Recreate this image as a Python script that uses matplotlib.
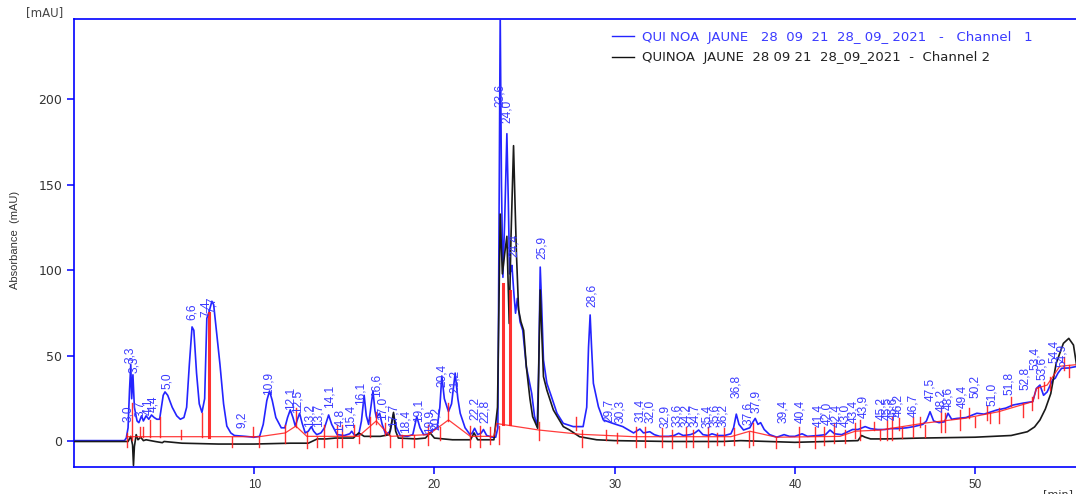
import matplotlib
matplotlib.use("Agg")
import matplotlib.pyplot as plt
import numpy as np

# ---------------- data ----------------
# Channel 1 (blue) trace: retention time [min], absorbance [mAU]
ch1_t = [0.0, 2.8, 2.9, 3.0, 3.08, 3.15, 3.2, 3.27, 3.35, 3.5, 3.6, 3.75, 3.85, 4.0, 4.15, 4.3, 4.45,
         4.6, 4.75, 4.85, 4.95, 5.05, 5.2, 5.45, 5.7, 5.9, 6.1, 6.25, 6.4, 6.55, 6.65, 6.8, 6.95, 7.1,
         7.25, 7.37, 7.5, 7.65, 7.75, 7.9, 8.1, 8.3, 8.48, 8.7, 8.9, 9.5, 10.0, 10.3, 10.5, 10.7, 10.85,
         11.0, 11.2, 11.5, 11.7, 11.85, 12.0, 12.15, 12.28, 12.4, 12.52, 12.65, 12.83, 13.0, 13.17, 13.3,
         13.47, 13.7, 13.9, 14.13, 14.3, 14.6, 15.0, 15.3, 15.41, 15.55, 15.8, 15.95, 16.1, 16.22, 16.35,
         16.47, 16.59, 16.7, 16.78, 16.96, 17.1, 17.3, 17.55, 17.73, 17.9, 18.1, 18.5, 18.8, 19.02, 19.2,
         19.4, 19.7, 19.9, 20.15, 20.3, 20.41, 20.55, 20.78, 20.95, 21.15, 21.3, 21.43, 21.7, 21.98, 22.1,
         22.23, 22.4, 22.6, 22.72, 22.9, 23.2, 23.4, 23.52, 23.58, 23.65, 23.72, 23.8, 23.9, 24.02, 24.1,
         24.17, 24.25, 24.3, 24.42, 24.5, 24.6, 24.75, 24.9, 25.1, 25.25, 25.4, 25.55, 25.7, 25.78, 25.87,
         25.95, 26.05, 26.24, 26.5, 26.8, 27.15, 27.7, 28.25, 28.45, 28.55, 28.64, 28.72, 28.82, 29.1,
         29.37, 29.9, 30.45, 31.05, 31.2, 31.4, 31.6, 31.95, 32.2, 32.5, 33.0, 33.3, 33.55, 33.8, 34.2,
         34.45, 34.66, 34.9, 35.2, 35.4, 35.7, 36.1, 36.45, 36.6, 36.75, 36.9, 37.15, 37.5, 37.65, 37.8,
         37.95, 38.1, 38.3, 38.6, 39.0, 39.4, 39.7, 40.0, 40.4, 40.7, 41.3, 41.7, 41.95, 42.2, 42.6, 43.0,
         43.2, 43.5, 43.9, 44.2, 44.6, 45.0, 45.3, 45.7, 46.2, 46.6, 47.1, 47.3, 47.5, 47.7, 48.0, 48.3,
         48.5, 48.7, 49.0, 49.5, 50.1, 50.5, 51.2, 51.7, 52.1, 52.7, 53.2, 53.4, 53.6, 53.8, 54.0, 54.3,
         54.45, 54.6, 54.8, 55.2, 55.7]
ch1_v = [0.5, 0.5, 2, 8, 30, 45, 25, 39, 20, 12, 11, 15, 12, 15, 13, 15.5, 14,
         13, 13, 20, 27, 29, 27, 20, 15, 13, 14, 20, 45, 67, 65, 40, 22, 17,
         25, 72, 76, 82, 80, 65, 45, 22, 9, 5, 3.5, 3, 2.5, 3, 10, 24, 29.5,
         24, 14, 8, 8, 14, 18.5, 14, 9, 13, 16.5, 11, 5, 6, 8.7, 6,
         4, 5, 8, 15.5, 10, 4, 3.5, 4.5, 6, 3.8, 4, 12, 27, 15, 10,
         20, 29.5, 18, 14, 16.5, 10, 4, 6, 16, 8, 3.5, 3, 4, 14.5, 8,
         4, 4.5, 6.5, 8, 20, 38.3, 25, 17.5, 22, 40, 25, 16.5, 8, 4, 5,
         7.7, 4, 5, 7, 3.5, 2.5, 2.5, 8, 120, 250, 150, 96, 130, 180, 140,
         98, 100, 103, 85, 75, 83.7, 70, 65, 43.7, 36, 28, 15, 8.7, 40, 102,
         80, 47.7, 34, 26, 16.5, 10.6, 8.7, 8.7, 20, 55, 74, 55, 34, 20.3,
         12.6, 10.6, 8.7, 5, 6, 7.3, 5, 5.7, 4, 3, 3, 3.5, 4.8, 3.5, 4,
         5, 6.7, 4, 3.5, 4.5, 3.5, 3.5, 4.5, 8, 16, 10, 6.7, 8, 11, 13.5,
         10, 11, 7, 4, 2.5, 4, 3, 3, 4.5, 3, 3.5, 4, 6.7, 4.5, 4, 6,
         7, 7, 8.7, 7.5, 7, 7, 7.5, 7.5, 8, 8.7, 10, 12, 17.4, 12, 11, 11.5,
         16.5, 13, 13.5, 14, 16.5, 16, 18.4, 19.5, 21.3, 22.5, 23.3, 31, 33, 27, 29, 36,
         37, 40, 42.8, 43, 44]

# Channel 2 (black) trace
ch2_t = [0.0, 3.0, 3.15, 3.25, 3.3, 3.35, 3.45, 3.55, 3.7, 3.85, 4.0, 4.5, 4.9, 5.0, 6.0, 8.0, 10.0,
         12.0, 13.0, 13.5, 14.0, 14.5, 15.5, 15.8, 16.1, 16.5, 17.0, 17.5, 17.73, 17.85, 18.0, 19.0,
         19.5, 19.76, 20.0, 21.0, 22.0, 22.2, 22.4, 23.3, 23.5, 23.65, 23.77, 23.9, 24.02, 24.15, 24.25,
         24.39, 24.47, 24.55, 24.67, 24.8, 24.95, 25.1, 25.3, 25.45, 25.73, 25.8, 25.87, 25.95, 26.05,
         26.24, 26.6, 27.15, 27.5, 28.05, 29.0, 30.0, 33.0, 36.0, 37.0, 40.0, 43.5, 43.7, 43.9, 44.2,
         45.0, 47.0, 50.0, 52.0, 52.9, 53.3, 53.6, 53.9, 54.2, 54.5, 54.9, 55.2, 55.46, 55.7]
ch2_v = [0.0, 0.0, 3, -2, -14, -3, 4, 1, 2.5, 0.5, 1, 0, -0.7, 0, -1, -1.5, -1.5,
         -1, -1, 1.5, 1.5, 2, 2, 5, 3, 3, 3, 4, 17, 6, 2, 1.5,
         2, 5, 2, 1, 1, 5, 1, 1, 20, 133, 98, 110, 120, 69, 120,
         173, 140, 110, 77, 70, 65, 43.7, 25, 14.5, 7.7, 50, 88.6, 65, 37.9,
         30, 18.4, 8.7, 6.7, 2.8, 1, 0.5, 0, 0, 0.5, -0.5, 0.5, 3.5, 2.5, 1.5,
         1.5, 2, 2.5, 3.5, 5.7, 8.5, 12.6, 19, 28, 45.7, 57.4, 60.3, 56.4, 40]

# Integration baseline (red)
base_t = [2.92, 10.28, 11.72, 12.31, 12.92, 15.79, 16.77, 17.55, 19.67, 20.78, 21.99, 23.3,
          23.45, 25.8, 28.1, 31.1, 36.45, 37.5, 38.97, 42.5, 43.35, 44.75, 47.1, 49.4, 51.3,
          53.2, 53.4, 54.0, 54.7, 55.7]
base_v = [2.8, 2.8, 5, 9, 3, 3, 12, 3, 4, 12.6, 3, 3,
          10.5, 6.7, 4.2, 2.8, 2.8, 6, 2.5, 3, 6, 6.7, 10.6, 13.5, 17.4,
          23.3, 31, 33, 44, 45]

# Peak start/end markers (red): time, low, high
mark_t = [2.93, 3.21, 3.67, 3.82, 4.19, 4.78, 5.95, 7.1, 7.5, 8.76, 9.93, 10.28, 11.72, 12.31,
          12.92, 13.51, 13.88, 14.62, 14.87, 15.55, 15.79, 16.4, 16.77, 17.27, 17.55, 18.2, 18.84,
          19.67, 20.32, 20.78, 21.99, 22.54, 23.1, 23.6, 23.83, 24.2, 25.8, 27.87, 28.18, 29.53,
          30.13, 31.2, 31.66, 32.62, 33.18, 33.97, 34.34, 35.16, 35.68, 36.08, 36.6, 37.47, 37.67,
          38.97, 40.21, 41.13, 41.63, 42.15, 42.8, 43.35, 43.63, 44.41, 44.74, 45.11, 45.39, 45.76,
          45.94, 46.53, 46.96, 47.24, 48.13, 48.35, 49.18, 49.64, 50.01, 50.66, 50.84, 51.3, 51.99,
          52.66, 53.16, 53.47, 53.8, 54.17, 54.91, 55.19]
mark_lo = [-3, 1, 2.8, 2.8, 2.8, 2.8, 1.5, 2.8, 2.8, -3, 2.8, -3, -1, 8.5,
           -4, -3, -3, -3, -3, 3.8, -1, 2.8, 10, 3.8, -3, -3, -3,
           -2, 0.9, 12, -3, -3, -1.2, -1.2, 10.5, 10.5, 0.9, 6.7, -3, 0.9,
           -1, -3, -3, -3, -4, -3, -3, -3, -2, -2, -2, -3, -2,
           -4, -3, -4, -2, -1, -1, 2, 0.9, 6.7, 0.9, 0.9, 0.9, 6.8,
           1.8, 2.8, 8.7, 2.8, 5.8, 5.8, 6.8, 13.7, 8.7, 12.7, 10.6, 10.6, 20.5,
           14.6, 18.5, 25.3, 30.1, 30.1, 41.8, 38]
mark_hi = [4.8, 22.3, 8.7, 8.7, 12.6, 14.6, 6.8, 16.5, 75, 2.8, 8.7, 2.8, 9.7, 19.4,
           5.8, 2.8, 9.7, 9.7, 9.7, 9.7, 3.8, 14.6, 17.5, 10.6, 3.8, 3.8, 3.8,
           9.7, 8.7, 22.3, 9, 9, 8.7, 9, 92, 88, 11.6, 14.5, 6.7, 6.7,
           4.8, 8.7, 8.7, 7.7, 6.7, 8.7, 6.7, 8.7, 4.8, 7.7, 7.7, 5.7, 10.6,
           2.8, 8.7, 8.7, 8.7, 10.6, 6.7, 10.6, 12.6, 11.6, 6.8, 12.7, 14.6, 13.7,
           8.7, 14.6, 14.6, 9.7, 19.5, 16.5, 18.5, 19.5, 14.6, 20.5, 16.5, 19.5, 26.3,
           22.4, 26.3, 32, 35, 38, 49.6, 44.7]

# Peak labels: text, time position, bottom of text [mAU]
lab_txt = ["3,0", "3,3", "3,3", "3,7", "4,1", "4,4", "5,0", "6,6", "7,4", "7,7", "9,2", "10,9",
           "12,1", "12,5", "13,2", "13,7", "14,1", "14,8", "15,4", "16,1", "16,6", "17,0", "17,7",
           "18,4", "19,1", "19,9", "20,2", "20,4", "21,2", "22,2", "22,8", "23,6", "24,0", "24,4",
           "25,9", "28,6", "29,7", "30,3", "31,4", "32,0", "32,9", "33,6", "34,2", "34,7", "35,4",
           "35,6", "36,2", "36,8", "37,6", "37,9", "39,4", "40,4", "41,4", "42,0", "42,4", "43,0",
           "43,4", "43,9", "45,2", "45,5", "45,6", "46,2", "46,7", "47,5", "48,2", "48,6", "49,4",
           "50,2", "51,0", "51,8", "52,8", "53,4", "53,6", "54,4", "54,9"]
lab_t = [3.02, 3.12, 3.32, 3.64, 4.1, 4.41, 5.14, 6.54, 7.34, 7.65, 9.32, 10.8,
         12.04, 12.41, 13.07, 13.57, 14.18, 14.73, 15.36, 15.88, 16.8, 17.13, 17.73,
         18.37, 19.1, 19.75, 20.1, 20.42, 21.16, 22.26, 22.82, 23.65, 24.02, 24.39,
         25.96, 28.74, 29.66, 30.31, 31.4, 31.95, 32.8, 33.45, 33.97, 34.47, 35.12,
         35.58, 36.04, 36.75, 37.43, 37.86, 39.34, 40.3, 41.32, 41.78, 42.3, 42.8,
         43.26, 43.81, 44.8, 45.15, 45.45, 45.76, 46.59, 47.51, 48.15, 48.5, 49.27,
         50.01, 50.94, 51.86, 52.79, 53.34, 53.71, 54.36, 54.82]
lab_v = [11.6, 46, 40, 14.6, 15.5, 17.5, 30.7, 71, 73, 75, 7.7, 27.3,
         18.4, 16.5, 8.7, 8.7, 19.4, 5.8, 7.7, 21.5, 26.2, 12.6, 8.7,
         4.8, 11.6, 4.8, 6.8, 32.1, 28.2, 12.6, 10.6, 195.8, 186, 108,
         107, 78.8, 11.6, 10.6, 11.6, 10.6, 8.0, 8.7, 8.7, 8.7, 8.0,
         8.7, 8.7, 25.2, 9.7, 16.5, 10.6, 10.6, 8.7, 9.7, 8.7, 8.7,
         10.6, 13.5, 12.7, 12.7, 12.7, 14.6, 14.6, 23.4, 17.5, 18.5, 19.5,
         25.3, 20.5, 27.3, 30.1, 41.8, 36, 45.7, 43.8]

y_ticks = [0, 50, 100, 150, 200]
x_ticks = [10, 20, 30, 40, 50]
legend_txt = ["QUI NOA  JAUNE   28  09  21  28_ 09_ 2021   -   Channel   1",
              "QUINOA  JAUNE  28 09 21  28_09_2021  -  Channel 2"]

# ---------------- drawing ----------------
W, H = 1076, 494
fig = plt.figure(figsize=(W / 100, H / 100), dpi=100)
fig.patch.set_facecolor("white")
left, bottom_px, top_px = 74, 467.3, 19.3
ax = fig.add_axes([left / W, 1 - bottom_px / H, 1 - left / W, (bottom_px - top_px) / H])
ax.set_xlim(0, 55.6)
ax.set_ylim(-15.1, 246.9)

BLUE = "#2424ff"
RED = "#ff1a1a"
ax.plot(ch1_t, ch1_v, color=BLUE, lw=1.2, zorder=3)
ax.plot(ch2_t, ch2_v, color="#1a1a1a", lw=1.2, zorder=4)
ax.plot(base_t, base_v, color=RED, lw=0.9, alpha=0.85, zorder=5)
for t, lo, hi in zip(mark_t, mark_lo, mark_hi):
    lw = 2.2 if hi > 60 else 1.0
    ax.plot([t, t], [lo, hi], color=RED, lw=lw, alpha=0.9, zorder=5)

for s, t, v in zip(lab_txt, lab_t, lab_v):
    ax.text(t, v, s, rotation=90, ha="center", va="bottom", color="#3a3aff",
            fontsize=8.6, family=["Liberation Sans", "DejaVu Sans"], zorder=6)

ax.spines["right"].set_visible(False)
for side in ("left", "top", "bottom"):
    ax.spines[side].set_color("#0000ff")
    ax.spines[side].set_linewidth(1.2)

ax.set_yticks(y_ticks)
ax.set_xticks(x_ticks)
ax.tick_params(axis="both", colors="#0000ff", direction="out", length=5, width=1.1,
               labelcolor="#333333", labelsize=9)
for lab in ax.get_yticklabels():
    lab.set_family("DejaVu Sans")
for lab in ax.get_xticklabels():
    lab.set_family("Liberation Sans")
    lab.set_fontsize(8.5)

fig.text(45 / W, 1 - 13 / H, "[mAU]", ha="center", va="center", fontsize=8.5,
         color="#444444", family="DejaVu Sans")
fig.text(15 / W, 1 - 240 / H, "Absorbance  (mAU)", rotation=90, ha="center", va="center",
         fontsize=8, color="#333333", family=["Liberation Sans Narrow", "Liberation Sans"])
fig.text(1043 / W, 1 - 489 / H, "[min]", ha="left", va="top", fontsize=8, color="#333333")

# legend
fig.add_artist(plt.Line2D([612 / W, 634 / W], [1 - 36 / H, 1 - 36 / H], color=BLUE, lw=1.0))
fig.add_artist(plt.Line2D([612 / W, 634 / W], [1 - 57 / H, 1 - 57 / H], color="#111111", lw=1.0))
fig.text(642 / W, 1 - 37 / H, legend_txt[0], ha="left", va="center", fontsize=9.5,
         color="#3a3aff", family="DejaVu Sans")
fig.text(642 / W, 1 - 57 / H, legend_txt[1], ha="left", va="center", fontsize=9.5,
         color="#222222", family="DejaVu Sans")

fig.savefig("out.png", dpi=100, facecolor="white")
